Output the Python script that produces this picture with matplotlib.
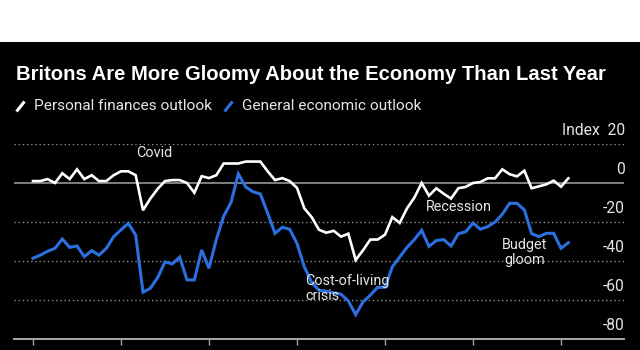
import matplotlib
matplotlib.use('Agg')
import matplotlib.pyplot as plt
from matplotlib.lines import Line2D
from matplotlib import font_manager as fm

# ---------------- data (monthly, Jan 2019 - Feb 2025) ----------------
start_year = 2019
personal = [1, 1, 2, 0, 5, 2, 7, 2, 4, 1, 1, 4,
            6, 6, 4, -14, -8, -3, 1, 1.5, 1.5, 0, -5, 3.5,
            2.5, 4, 10, 10, 10, 11, 11, 11, 6, 1.5, 2.5, 1,
            -2.5, -13, -17.5, -24, -25.5, -24.5, -27.5, -26, -39.5, -34.5, -29, -29,
            -26.5, -17.5, -20.5, -13, -7.5, 0, -6.5, -2.7, -5.5, -8, -2.7, -2,
            0, 0.5, 2.4, 2.4, 7, 4.5, 3.4, 6.3, -2.7, -1.7, -0.7, 1.2,
            -1.9, 2.4]
general = [-38.6, -37, -35, -33.5, -28.7, -33, -32.3, -37.8, -34.7, -37, -33.5, -27.5,
           -24, -20.7, -26.7, -56, -54, -48.5, -40.5, -41.5, -38, -49.7, -49.7, -34.4,
           -43.7, -29, -17, -10, 4.7, -2, -4.5, -5.6, -15.5, -25.8, -22.7, -23.7,
           -31, -43, -51, -55, -55.5, -56.3, -57, -60.5, -67.5, -61, -57.5, -53.5,
           -53.5, -43, -38, -33, -29, -24.3, -32.5, -29.5, -29, -32.3, -26, -25,
           -20.5, -23.7, -22.4, -20, -16, -10.4, -10.4, -13.8, -26, -27.5, -25.8, -25.8,
           -33.5, -30.6]
series_names = ["Personal finances outlook", "General economic outlook"]
y_ticks = [20, 0, -20, -40, -60, -80]
year_tick_months = [0, 12, 24, 36, 48, 60, 72]
title = "Britons Are More Gloomy About the Economy Than Last Year"
annotations = [("Covid", 16.6, 15.4, 'center'), ("Cost-of-living\ncrisis", 37.1, -54.1, 'left'),
               ("Recession", 58.1, -12.3, 'center'), ("Budget\ngloom", 67.0, -35.6, 'center')]

# ---------------- fonts ----------------
avail = {f.name for f in fm.fontManager.ttflist}
def pick(*names):
    for n in names:
        if n in avail:
            return n
    return 'DejaVu Sans'
NARROW = pick('Liberation Sans Narrow', 'Roboto', 'Open Sans')
BOLD = pick('Liberation Sans', 'Roboto', 'DejaVu Sans')

W, H, DPI = 640, 350, 100
fig = plt.figure(figsize=(W / DPI, H / DPI), dpi=DPI)
fig.patch.set_facecolor('black')
# white band on top
fig.add_artist(plt.Rectangle((0, (H - 42) / H), 1, 42 / H, transform=fig.transFigure,
                             facecolor='white', edgecolor='none', zorder=0))

renderer = fig.canvas.get_renderer()

def fit(txt, target_px):
    bb = txt.get_window_extent(renderer=renderer)
    txt.set_fontsize(txt.get_fontsize() * target_px / bb.width)

def fx(px):
    return px / W

def fy(py):
    return (H - py) / H

# title
t = fig.text(fx(16), fy(74), title, color='white', fontsize=14, fontweight='bold',
             family=BOLD, va='center', ha='left')
fit(t, 591)

# legend
fig.add_artist(Line2D([fx(16.5), fx(24.5)], [fy(111.5), fy(101.5)], color='white', lw=2.2,
                      transform=fig.transFigure, solid_capstyle='butt'))
fig.add_artist(Line2D([fx(224.5), fx(232.5)], [fy(111.5), fy(101.5)], color='#2b6fe0', lw=2.2,
                      transform=fig.transFigure, solid_capstyle='butt'))
l1 = fig.text(fx(34), fy(106), series_names[0], color='#e6e6e6', fontsize=11, family=NARROW,
              va='center', ha='left')
fit(l1, 177)
l2 = fig.text(fx(242), fy(106), series_names[1], color='#e6e6e6', fontsize=l1.get_fontsize(),
              family=NARROW, va='center', ha='left')

# axes
ax = fig.add_axes([fx(14), fy(339), fx(624) - fx(14), fy(144) - fy(339)])
ax.set_facecolor('black')
ax.set_xlim(-19 / (88 / 12), 591 / (88 / 12))
ax.set_ylim(-80, 20)

for v in y_ticks:
    if v in (0, -80):
        continue
    ax.axhline(v, color='#8c8c8c', lw=1.0, ls=(0, (1, 2)), zorder=1)
ax.axhline(0, color='#8a8a8a', lw=1.3, zorder=1)

x = list(range(len(personal)))
ax.plot(x, general, color='#2b6fe0', lw=2.2, zorder=3, solid_joinstyle='miter')
ax.plot(x, personal, color='white', lw=1.9, zorder=4, solid_joinstyle='miter')

for s in ['top', 'right', 'left']:
    ax.spines[s].set_visible(False)
ax.spines['bottom'].set_color('#a8a8a8')
ax.spines['bottom'].set_linewidth(1.4)
ax.set_yticks([])
ax.set_xticks(year_tick_months)
ax.set_xticklabels([])
ax.tick_params(axis='x', direction='out', length=4, width=1, color='#a8a8a8')

# y tick labels, right-aligned above gridlines
lab_fs = None
for v in y_ticks:
    s = f"Index  {v}" if v == 20 else f"{v}"
    tt = ax.text(1.0015, v + 7, s, transform=ax.get_yaxis_transform(), color='#e6e6e6',
                 fontsize=11, family=NARROW, ha='right', va='center')
    if v == -20:
        fit(tt, 22)
        lab_fs = tt.get_fontsize()
for tt in ax.texts:
    tt.set_fontsize(lab_fs)

# annotations
ann_fs = None
for label, xi, yv, ha in annotations:
    a = ax.text(xi, yv, label, color='#e6e6e6', fontsize=10, family=NARROW,
                ha=ha, va='center', linespacing=1.12, zorder=5)
    if label == "Recession":
        fit(a, 66)
        ann_fs = a.get_fontsize()
for a in ax.texts[len(y_ticks):]:
    a.set_fontsize(ann_fs)

fig.savefig('out.png', dpi=DPI, facecolor=fig.get_facecolor())
